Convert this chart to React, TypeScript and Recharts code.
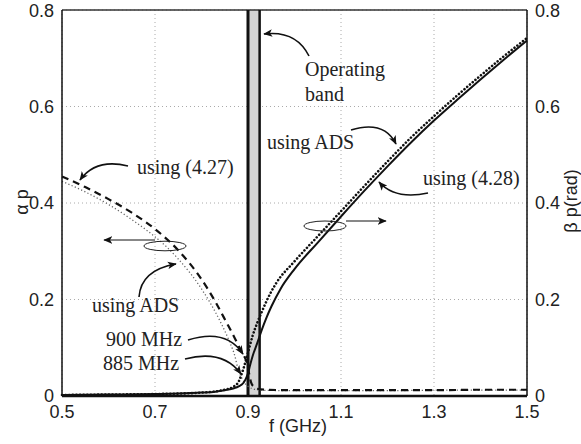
import { LineChart, Line, XAxis, YAxis, CartesianGrid, ReferenceArea, ReferenceLine } from 'recharts'

// frequency axis (GHz)
const freqTicks = [0.5, 0.7, 0.9, 1.1, 1.3, 1.5]
const valueTicks = [0, 0.2, 0.4, 0.6, 0.8]

// alpha*p, using (4.27)
const alphaEqF = [0.5, 0.55, 0.6, 0.65, 0.7, 0.75, 0.8, 0.83, 0.854, 0.87, 0.886, 0.893, 0.898, 0.902, 0.907, 0.913, 0.92, 0.94, 1.0, 1.1, 1.2, 1.3, 1.4, 1.5]
const alphaEqV = [0.455, 0.433, 0.408, 0.38, 0.346, 0.302, 0.242, 0.195, 0.152, 0.123, 0.092, 0.08, 0.068, 0.048, 0.027, 0.019, 0.015, 0.013, 0.012, 0.012, 0.012, 0.012, 0.013, 0.013]

// alpha*p, using ADS
const alphaAdsF = [0.5, 0.55, 0.6, 0.657, 0.7, 0.725, 0.75, 0.8, 0.84, 0.86, 0.872, 0.879, 0.886, 0.893, 0.9, 0.91, 0.93, 1.0, 1.1, 1.2, 1.3, 1.4, 1.5]
const alphaAdsV = [0.445, 0.423, 0.397, 0.361, 0.33, 0.309, 0.284, 0.222, 0.155, 0.113, 0.082, 0.054, 0.038, 0.027, 0.02, 0.015, 0.012, 0.011, 0.011, 0.011, 0.012, 0.012, 0.012]

// beta*p, using (4.28)
const betaEqF = [0.5, 0.6, 0.7, 0.75, 0.8, 0.83, 0.85, 0.87, 0.88, 0.89, 0.895, 0.9, 0.905, 0.91, 0.92, 0.93, 0.94, 0.95, 0.97, 1.0, 1.05, 1.1, 1.15, 1.2, 1.25, 1.3, 1.35, 1.4, 1.45, 1.5]
const betaEqV = [0.002, 0.003, 0.004, 0.005, 0.007, 0.009, 0.012, 0.016, 0.02, 0.027, 0.035, 0.047, 0.066, 0.083, 0.11, 0.138, 0.163, 0.185, 0.222, 0.263, 0.318, 0.372, 0.425, 0.476, 0.525, 0.571, 0.614, 0.656, 0.697, 0.737]

// beta*p, using ADS
const betaAdsF = [0.5, 0.6, 0.7, 0.8, 0.85, 0.87, 0.88, 0.885, 0.89, 0.9, 0.91, 0.92, 0.93, 0.94, 0.96, 1.0, 1.05, 1.1, 1.15, 1.2, 1.25, 1.3, 1.35, 1.4, 1.45, 1.5]
const betaAdsV = [0.002, 0.003, 0.004, 0.007, 0.013, 0.02, 0.03, 0.042, 0.056, 0.09, 0.125, 0.152, 0.175, 0.197, 0.233, 0.279, 0.331, 0.383, 0.435, 0.486, 0.535, 0.58, 0.623, 0.664, 0.704, 0.742]

// operating band (GHz)
const bandStart = 0.9
const bandEnd = 0.925

const toPoints = (fs: number[], vs: number[]) => fs.map((f, i) => ({ f, v: vs[i] }))

const alphaEq = toPoints(alphaEqF, alphaEqV)
const alphaAds = toPoints(alphaAdsF, alphaAdsV)
const betaEq = toPoints(betaEqF, betaEqV)
const betaAds = toPoints(betaAdsF, betaAdsV)

const fmt = (v: number) => (v === 0 ? '0' : v.toFixed(1))
const sans = 'Liberation Sans, Arial, sans-serif'
const serif = 'Liberation Serif, Times New Roman, serif'
const tickStyle = { fontSize: 18, fill: '#222', fontFamily: sans }

function Annotations() {
  const txt = { fontFamily: serif, fontSize: 20, fill: '#222' }
  const arrow = { fill: 'none', stroke: '#111', strokeWidth: 1.6, markerEnd: 'url(#head)' }
  return (
    <svg width={581} height={444} style={{ position: 'absolute', left: 0, top: 0, pointerEvents: 'none' }}>
      <defs>
        <marker id="head" viewBox="0 0 12 10" refX="11" refY="5" markerWidth="9" markerHeight="8" orient="auto" markerUnits="userSpaceOnUse">
          <path d="M0,0 L12,5 L0,10 L3,5 z" fill="#111" />
        </marker>
      </defs>
      <text x={305} y={76} {...txt}>Operating</text>
      <text x={305} y={101} {...txt}>band</text>
      <path d="M309 56 Q296 30 264 34" {...arrow} />

      <text x={267} y={149} {...txt}>using ADS</text>
      <path d="M351 130 Q384 120 396 144" {...arrow} />

      <text x={423} y={185} {...txt}>using (4.28)</text>
      <path d="M428 193 Q395 200 379 182" {...arrow} />

      <text x={137} y={174} {...txt}>using (4.27)</text>
      <path d="M128 166 Q96 158 80 180" {...arrow} />

      <text x={92} y={312} {...txt}>using ADS</text>
      <path d="M139 297 Q141 270 176 264" {...arrow} />

      <text x={106} y={346} {...txt}>900 MHz</text>
      <path d="M188 340 Q226 328 243 354" {...arrow} />

      <text x={103} y={370} {...txt}>885 MHz</text>
      <path d="M185 359 Q223 349 241 374" {...arrow} />

      <ellipse cx={165} cy={246} rx={21} ry={4.8} fill="none" stroke="#222" strokeWidth={1} />
      <path d="M155 240 L104 240" {...arrow} strokeWidth={1} />
      <ellipse cx={325} cy={226} rx={21} ry={5} fill="none" stroke="#222" strokeWidth={1} />
      <path d="M346 221 L386 221" {...arrow} strokeWidth={1} />

      <text x={298} y={432} textAnchor="middle" fontSize={18} fill="#222" fontFamily={sans}>f (GHz)</text>
      <text transform="translate(28 202) rotate(-90)" textAnchor="middle" fontSize={18} fill="#222" fontFamily={sans}>α p</text>
      <text transform="translate(577 201) rotate(-90)" textAnchor="middle" fontSize={18} fill="#222" fontFamily={sans}>β p(rad)</text>
    </svg>
  )
}

export default function App() {
  return (
    <div style={{ position: 'absolute', left: 0, top: 0, width: 581, height: 444, background: '#fff' }}>
      <LineChart width={581} height={444} margin={{ top: 10, right: 0, bottom: 0, left: 0 }}>
        <CartesianGrid yAxisId="left" stroke="#aaa" strokeDasharray="1 3" />
        <XAxis
          dataKey="f"
          type="number"
          domain={[0.5, 1.5]}
          ticks={freqTicks}
          tickFormatter={fmt}
          allowDuplicatedCategory={false}
          height={48}
          tick={tickStyle}
          tickLine={false}
          tickMargin={3}
          axisLine={{ stroke: '#111', strokeWidth: 2.5 }}
        />
        <YAxis
          yAxisId="left"
          domain={[0, 0.8]}
          ticks={valueTicks}
          tickFormatter={fmt}
          width={62}
          tick={tickStyle}
          tickLine={false}
          tickMargin={2}
          axisLine={{ stroke: '#111', strokeWidth: 1.5 }}
        />
        <YAxis
          yAxisId="right"
          orientation="right"
          domain={[0, 0.8]}
          ticks={valueTicks}
          tickFormatter={fmt}
          width={54}
          tick={tickStyle}
          tickLine={false}
          tickMargin={2}
          axisLine={{ stroke: '#111', strokeWidth: 1.5 }}
        />
        <ReferenceLine yAxisId="left" y={0.8} stroke="#333" strokeWidth={1.5} />
        <ReferenceArea
          yAxisId="left"
          x1={bandStart}
          x2={bandEnd}
          y1={0}
          y2={0.8}
          fill="#d3d3d3"
          fillOpacity={1}
          stroke="none"
        />
        <ReferenceLine yAxisId="left" x={bandStart} stroke="#111" strokeWidth={3} />
        <ReferenceLine yAxisId="left" x={bandEnd} stroke="#111" strokeWidth={2.5} />
        <Line yAxisId="left" data={alphaAds} dataKey="v" type="monotone" stroke="#666" strokeWidth={1.3} strokeDasharray="1.2 2.3" dot={false} isAnimationActive={false} />
        <Line yAxisId="left" data={alphaEq} dataKey="v" type="monotone" stroke="#111" strokeWidth={2.2} strokeDasharray="7 5" dot={false} isAnimationActive={false} />
        <Line yAxisId="right" data={betaEq} dataKey="v" type="monotone" stroke="#111" strokeWidth={2} dot={false} isAnimationActive={false} />
        <Line yAxisId="right" data={betaAds} dataKey="v" type="monotone" stroke="#111" strokeWidth={2.6} strokeDasharray="0.01 3.6" strokeLinecap="round" dot={false} isAnimationActive={false} />
      </LineChart>
      <Annotations />
    </div>
  )
}
